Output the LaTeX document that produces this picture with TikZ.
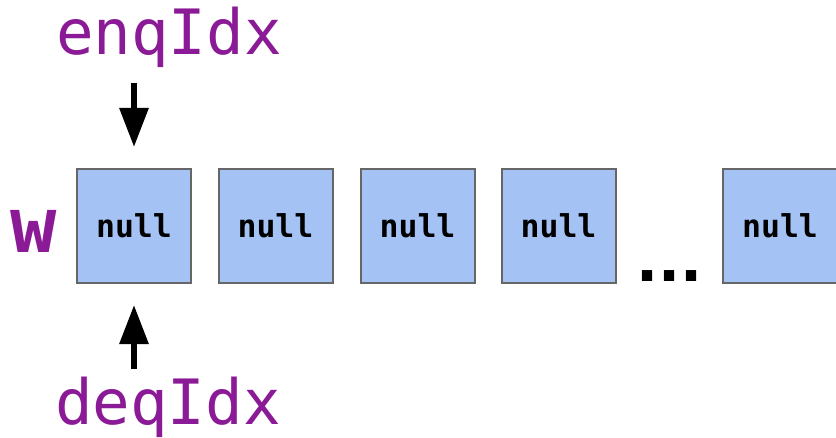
\documentclass[tikz,border=0pt]{standalone}
\usepackage{fontspec}
\setmainfont{DejaVu Sans}
\setmonofont{DejaVu Sans Mono}
\usetikzlibrary{arrows.meta}
\definecolor{lblpurple}{HTML}{8B1A96}
\definecolor{cellblue}{HTML}{A4C2F4}
\definecolor{cellborder}{HTML}{666666}
\tikzset{
  cell/.style={draw=cellborder, fill=cellblue, line width=2pt, minimum width=114pt, minimum height=114pt, inner sep=0pt,
    font=\ttfamily\bfseries\fontsize{31.5}{31.5}\selectfont},
  idxlabel/.style={anchor=base, inner sep=0pt, text=lblpurple, font=\ttfamily\fontsize{62.5}{62.5}\selectfont},
  ptrarrow/.style={line width=6pt, -{Triangle[width=28pt,length=39pt]}},
}
\begin{document}
\begin{tikzpicture}[x=1pt,y=1pt]
\useasboundingbox (0,0) rectangle (836,437);
\node[cell] (b1) at (134,211) {null};
\node[cell] (b2) at (275.5,211) {null};
\node[cell] (b3) at (417.5,211) {null};
\node[cell] (b4) at (558.5,211) {null};
\node[cell] (b5) at (780,211) {null};
\node[anchor=base, inner sep=0pt, font=\bfseries\fontsize{58}{58}\selectfont] (dots) at (669.5,155) {...};
\node[anchor=base, inner sep=0pt, text=lblpurple, font=\ttfamily\bfseries\fontsize{77}{77}\selectfont] (w) at (33.5,184) {w};
\node[idxlabel] (enq) at (169,382) {enqIdx};
\node[idxlabel] (deq) at (168,13) {deqIdx};
\coordinate (ea) at (134,354);
\coordinate (eb) at (134,290);
\coordinate (da) at (134,68);
\coordinate (db) at (134,132);
\draw[ptrarrow] (ea) -- (eb);
\draw[ptrarrow] (da) -- (db);
\end{tikzpicture}
\end{document}
